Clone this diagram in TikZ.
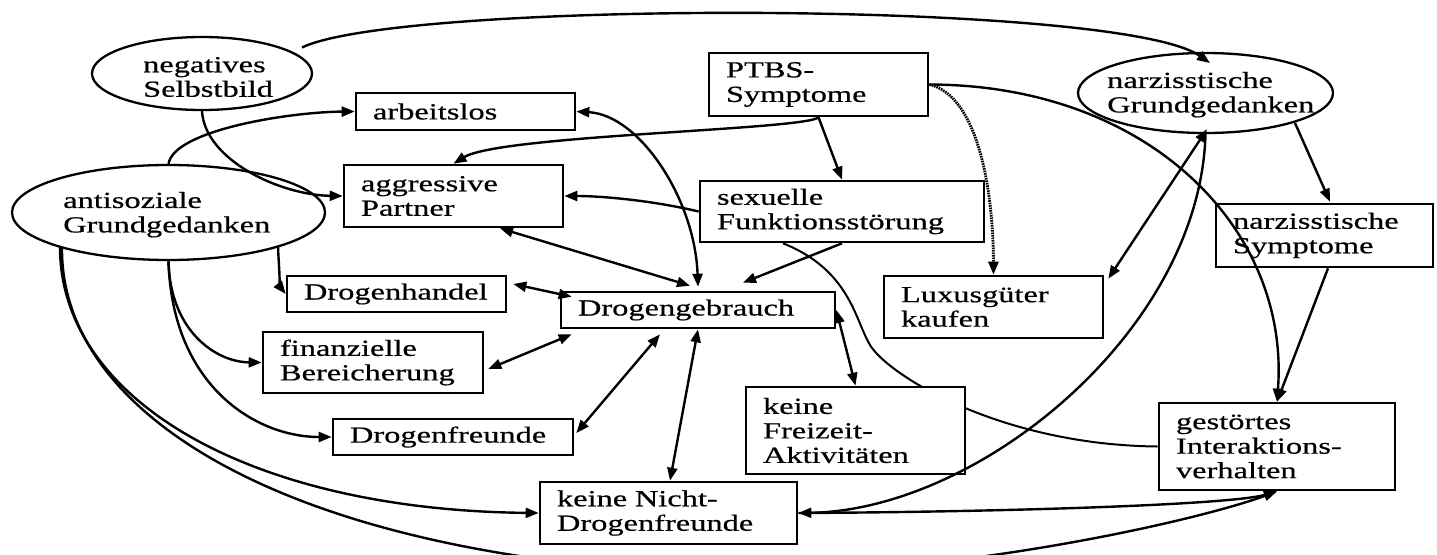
\documentclass[tikz,border=0pt]{standalone}
\usepackage{fontspec}
\setmainfont{Liberation Serif}[FakeStretch=1.41,FakeBold=0.6]
\usetikzlibrary{arrows.meta,calc,shapes.geometric}
\pgfdeclarelayer{bg}
\pgfsetlayers{bg,main}
\hyphenpenalty=10000
\exhyphenpenalty=10000
\tikzset{
  box/.style={draw, line width=2.6pt, fill=white, rectangle, inner xsep=17pt, inner ysep=0pt, align=left, font=\fontsize{23}{24.5}\selectfont},
  oval/.style={draw, ellipse, line width=2.3pt, inner sep=0pt},
  lbl/.style={inner sep=0pt, anchor=west, align=left, font=\fontsize{23}{24.5}\selectfont},
  con/.style={line width=2.4pt, -{Triangle[length=13pt,width=10pt]}},
  bicon/.style={line width=2.4pt, {Triangle[length=13pt,width=10pt]}-{Triangle[length=13pt,width=10pt]}},
  thinline/.style={line width=2pt},
  dotline/.style={line width=2.8pt, dash pattern=on 1.6pt off 0.9pt, -{Triangle[length=13pt,width=10pt]}}
}
\begin{document}
\begin{tikzpicture}[x=1pt,y=-1pt]
\useasboundingbox (0,0) rectangle (1437,554);

% ellipses
\node[oval, minimum width=220pt, minimum height=73pt] (negS) at (202,73.5) {};
\node[lbl] (negSt) at (143,77) {negatives\\Selbstbild};
\node[oval, minimum width=313pt, minimum height=95pt] (anti) at (168.5,212.5) {};
\node[lbl] (antit) at (63,214.7) {antisoziale\\Grundgedanken};
\node[oval, minimum width=255pt, minimum height=80pt] (narzG) at (1205.5,93) {};
\node[lbl] (narzGt) at (1107,94.7) {narzisstische\\Grundgedanken};

% boxes
\node[box, minimum width=219pt, text width=185pt, minimum height=37pt] (arb) at (465.5,111.5) {arbeitslos};
\node[box, minimum width=219pt, text width=185pt, minimum height=62pt] (aggr) at (453.5,196) {aggressive\\Partner};
\node[box, minimum width=219pt, text width=185pt, minimum height=63pt] (ptbs) at (818.5,84.5) {PTBS-\\Symptome};
\node[box, minimum width=284pt, text width=250pt, minimum height=61pt] (sex) at (842,211.5) {sexuelle\\Funktionsstörung};
\node[box, minimum width=217pt, text width=183pt, minimum height=63pt] (narzS) at (1324.5,235.5) {narzisstische\\Symptome};
\node[box, minimum width=219pt, text width=185pt, minimum height=62pt] (lux) at (993.5,307) {Luxusgüter\\kaufen};
\node[box, minimum width=219pt, text width=185pt, minimum height=36pt] (handel) at (396.5,294) {Drogenhandel};
\node[box, minimum width=274pt, text width=240pt, minimum height=36pt] (gebr) at (698,310) {Drogengebrauch};
\node[box, minimum width=220pt, text width=186pt, minimum height=61pt] (finanz) at (373,362.5) {finanzielle\\Bereicherung};
\node[box, minimum width=240pt, text width=206pt, minimum height=36pt] (dfreunde) at (453,437) {Drogenfreunde};
\node[box, minimum width=219pt, text width=185pt, minimum height=87pt] (freizeit) at (855.5,430.5) {keine\\Freizeit-\\Aktivitäten};
\node[box, minimum width=257pt, text width=223pt, minimum height=62pt] (nicht) at (668.5,513) {keine Nicht-\\Drogenfreunde};
\node[box, minimum width=236pt, text width=202pt, minimum height=87pt] (gest) at (1277,446.5) {gestörtes\\Interaktions-\\verhalten};

% hidden line (behind Freizeit box)
\begin{pgfonlayer}{bg}
\draw[thinline] ([xshift=-59pt]sex.south) .. controls (850,270) and (855,320) .. (870,345) .. controls (888,375) and (1000,445) .. (gest.west);
\end{pgfonlayer}

% connectors
\draw[con] ($(negS)+(100,-26)$) .. controls (400,0) and (1120,0) .. ($(narzG)+(4.5,-30)$);
\draw[con] (negS.south) .. controls (205,160) and (280,195) .. (aggr.west);
\draw[con] (anti.north) .. controls (174,130) and (290,112) .. (arb.west);
\draw[con] (ptbs.south) .. controls (805,130) and (500,135) .. (aggr.north);
\draw[con] (ptbs.south) -- (sex.north);
\draw[con] (sex.west) .. controls (650,200) and (600,196) .. (aggr.east);
\draw[bicon] ([shift={(46.5,0)}]aggr.south) -- ([shift={(-8,-5)}]gebr.north);
\draw[bicon] (arb.east) .. controls (640,115) and (695,200) .. ([shift={(0,-4)}]gebr.north);
\draw[con] (sex.south) -- ([shift={(45,-8)}]gebr.north);
\draw[con] ($(narzG)+(89.5,30)$) -- ([shift={(5.5,-1)}]narzS.north);
\draw[con] ([shift={(3.5,0)}]narzS.south) -- (gest.north);
\draw[con] (ptbs.east) .. controls (1150,85) and (1290,230) .. (gest.north);
\draw[dotline] (ptbs.east) .. controls (975,95) and (993,180) .. (lux.north);
\draw[con] ($(anti)+(109.5,34.5)$) .. controls (279,270) and (281,288) .. (handel.west);
\draw[con] (anti.south) .. controls (170,330) and (215,362) .. (finanz.west);
\draw[con] (anti.south) .. controls (172,385) and (255,437) .. (dfreunde.west);
\draw[con] ($(anti)+(-108.5,34.5)$) .. controls (60,400) and (250,510) .. (nicht.west);
\draw[con] ($(anti)+(-106.5,35)$) .. controls (60,420) and (300,560) .. (720,574) .. controls (950,578) and (1200,520) .. (gest.south);
\draw[con] (nicht.east) .. controls (1000,512) and (1230,505) .. (gest.south);
\draw[con] (narzG.south) .. controls (1200,330) and (980,510) .. (nicht.east);
\draw[bicon] ([shift={(4,4)}]lux.north east) -- ([shift={(1.5,-5)}]narzG.south);
\draw[bicon] (gebr.east) -- (freizeit.north);
\draw[bicon] ([shift={(6,-10)}]handel.east) -- ([shift={(12,6)}]gebr.north west);
\draw[bicon] ([shift={(4,6.5)}]finanz.east) -- ([shift={(12,5)}]gebr.south west);
\draw[bicon] ([shift={(2,-4)}]dfreunde.east) -- ([shift={(-38,5)}]gebr.south);
\draw[bicon] ([shift={(1.5,0)}]nicht.north) -- (gebr.south);
\end{tikzpicture}
\end{document}
